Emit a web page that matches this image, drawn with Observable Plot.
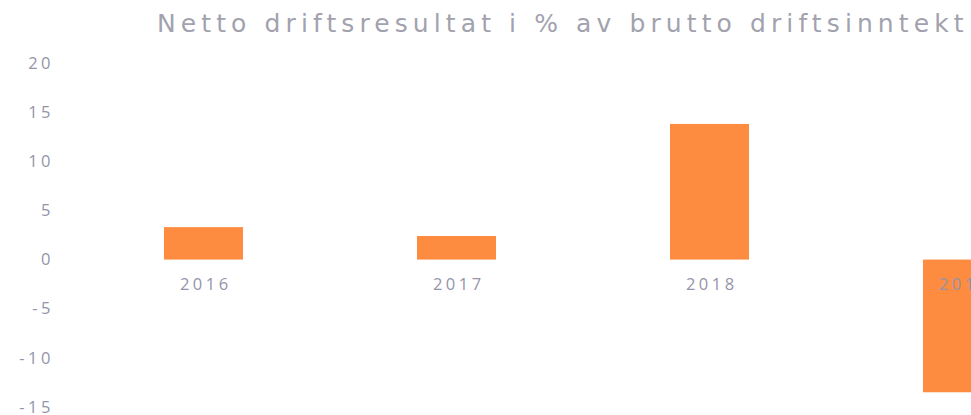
<!DOCTYPE html>
<html>
<head>
<meta charset="utf-8">
<script src="https://cdn.jsdelivr.net/npm/d3@7"></script>
<script src="https://cdn.jsdelivr.net/npm/@observablehq/plot@0.6"></script>
<style>
  html, body { margin: 0; padding: 0; background: #fff; overflow: hidden; }
  #wrap { position: relative; width: 971px; height: 415px; overflow: hidden; }
  #title {
    position: absolute; left: 157px; top: 11px;
    font-family: "DejaVu Sans", sans-serif; font-size: 25px; line-height: 25px;
    color: #a2a2ae; letter-spacing: 5.1px; white-space: nowrap;
  }
  #chart { position: absolute; left: 0; top: 0; }
  #chart svg text { letter-spacing: 3.5px; }
</style>
</head>
<body>
<div id="wrap">
  <div id="chart"></div>
  <div id="title">Netto driftsresultat i % av brutto driftsinntekt</div>
</div>
<script>
const years = ["2016", "2017", "2018", "2019"];
const values = [3.3, 2.4, 13.8, -13.5];
const yTicks = [20, 15, 10, 5, 0, -5, -10, -15];

const data = years.map((year, i) => ({year, value: values[i]}));

const chart = Plot.plot({
  width: 971,
  height: 415,
  marginLeft: 55,
  marginRight: 0,
  marginTop: 0,
  marginBottom: 0,
  style: {fontFamily: "Open Sans, sans-serif", background: "white", overflow: "hidden"},
  x: {type: "band", domain: years, range: [76.5, 1088.5], paddingInner: 0.688, paddingOuter: 0.344, align: 0.5, axis: null},
  y: {domain: [-15, 20], range: [407, 63], axis: null},
  marks: [
    Plot.barY(data, {x: "year", y: "value", fill: "#fd8b40"}),
    Plot.text(data, {x: "year", y: () => 0, text: "year", dy: 25, dx: 1.75, fill: "#9494aa", fontSize: 16.5}),
    Plot.axisY({ticks: yTicks, label: null, tickSize: 0, tickPadding: 1.5, tickFormat: d => String(d), fontSize: 16.5, color: "#9494aa", fill: "#9494aa"})
  ]
});
document.getElementById("chart").appendChild(chart);
</script>
</body>
</html>
